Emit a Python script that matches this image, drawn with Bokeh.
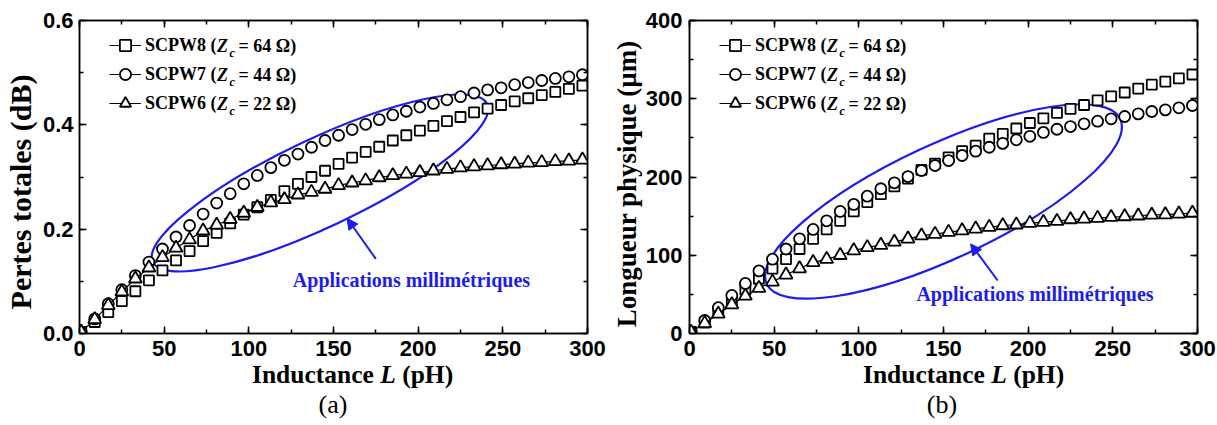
from bokeh.plotting import figure
from bokeh.layouts import row, column
from bokeh.models import (LinearAxis, SingleIntervalTicker, PrintfTickFormatter, CustomJSTickFormatter,
                          Range1d, Legend, LegendItem, Label, Arrow, NormalHead, Div)
from bokeh.embed import file_html
from bokeh.resources import INLINE

# ---------------- data ----------------
inductance_ph = [1, 9, 17, 25, 33, 41, 49, 57, 65, 73, 81, 89, 97, 105, 113, 121, 129, 137, 145,
                 153, 161, 169, 177, 185, 193, 201, 209, 217, 225, 233, 241, 249, 257, 265, 273,
                 281, 289, 297]

# (a) Pertes totales (dB)
pertes_scpw8 = [0.003, 0.022, 0.041, 0.062, 0.081, 0.102, 0.121, 0.140, 0.158, 0.177, 0.193, 0.211,
                0.228, 0.242, 0.256, 0.273, 0.287, 0.300, 0.312, 0.325, 0.337, 0.348, 0.358, 0.370,
                0.380, 0.389, 0.398, 0.407, 0.415, 0.424, 0.431, 0.438, 0.445, 0.451, 0.457, 0.463,
                0.469, 0.475]
pertes_scpw7 = [0.003, 0.028, 0.057, 0.084, 0.111, 0.137, 0.162, 0.185, 0.207, 0.229, 0.250, 0.268,
                0.287, 0.303, 0.318, 0.332, 0.344, 0.357, 0.370, 0.380, 0.391, 0.401, 0.410, 0.419,
                0.426, 0.434, 0.441, 0.448, 0.454, 0.461, 0.467, 0.471, 0.477, 0.481, 0.485, 0.489,
                0.492, 0.496]
pertes_scpw6 = [0.003, 0.027, 0.054, 0.080, 0.105, 0.126, 0.146, 0.164, 0.180, 0.197, 0.208, 0.219,
                0.231, 0.242, 0.251, 0.257, 0.266, 0.271, 0.277, 0.284, 0.289, 0.293, 0.299, 0.303,
                0.306, 0.309, 0.312, 0.315, 0.318, 0.320, 0.322, 0.324, 0.325, 0.327, 0.328, 0.330,
                0.331, 0.333]

# (b) Longueur physique (um)
longueur_scpw8 = [2, 14, 28, 42, 56, 70, 83, 95, 108, 121, 133, 144, 156, 168, 178, 188, 198, 209,
                  217, 225, 233, 240, 249, 255, 262, 269, 275, 282, 287, 292, 298, 303, 308, 313,
                  318, 322, 326, 331]
longueur_scpw7 = [2, 16.6, 33, 48.6, 64, 80, 95, 108, 121, 133, 144, 156, 165, 175.5, 185, 192.6,
                  200.6, 208.3, 214.7, 221, 227.5, 233, 238, 243, 247.5, 252, 257, 261, 264.5, 268,
                  271.3, 274.4, 277.3, 280.7, 283.7, 285.8, 288.4, 291.4]
longueur_scpw6 = [1.7, 13, 25, 37, 48, 58, 66, 75, 83, 91, 95, 100, 106, 110, 113, 117, 121, 125,
                  127, 129.5, 131.6, 133.8, 135.9, 138, 139, 141, 142.3, 143.5, 145.7, 146.6, 147.4,
                  148.6, 149.5, 150.5, 151.5, 152, 153, 154]

series_names = ["SCPW8", "SCPW7", "SCPW6"]
impedances = ["64", "44", "22"]
annotation_text = "Applications millimétriques"

# ---------------- style ----------------
SERIF = "Liberation Serif"
SANS = "Liberation Sans"
BLUE = "#1c1cf0"
MARKERS = ["square", "circle", "triangle"]
MSIZE = [10, 11, 13]
FIG_H = 365
NBSP = "\u00a0"


def style_axis(ax, standoff, labels=True):
    ax.axis_line_color = "black"
    ax.axis_line_width = 1.5
    ax.major_tick_in = 7
    ax.major_tick_out = 0
    ax.minor_tick_in = 4
    ax.minor_tick_out = 0
    ax.major_tick_line_width = 1.5
    ax.minor_tick_line_width = 1.5
    ax.major_tick_line_color = "black"
    ax.minor_tick_line_color = "black"
    ax.major_label_standoff = standoff
    if labels:
        ax.major_label_text_font = SANS
        ax.major_label_text_font_style = "bold"
        ax.major_label_text_font_size = "22px"
        ax.major_label_text_color = "black"
    else:
        ax.major_label_text_font_size = "1px"


def build(ys, y_max, y_step, y_fmt, y_label, y_label_size, border_left, width, border_right,
          y_std, y_lab_std, ell, arr, txt):
    # tiny headroom so the top tick (e.g. 0.6) survives floating-point rounding
    p = figure(width=width, height=FIG_H, x_range=Range1d(0, 300),
               y_range=Range1d(0, y_max * (1 + 1e-6)),
               output_backend="svg", toolbar_location=None, x_axis_type=None, y_axis_type=None,
               min_border_left=border_left, min_border_right=border_right,
               min_border_top=20, min_border_bottom=32)
    p.xgrid.visible = False
    p.ygrid.visible = False
    p.outline_line_color = "black"
    p.outline_line_width = 1.5
    p.background_fill_color = "white"
    p.border_fill_color = "white"

    xt = SingleIntervalTicker(interval=50, num_minor_ticks=2)
    yt = SingleIntervalTicker(interval=y_step, num_minor_ticks=2)

    bottom = LinearAxis(ticker=xt, formatter=PrintfTickFormatter(format="%d"))
    style_axis(bottom, 7)
    left = LinearAxis(ticker=yt, formatter=PrintfTickFormatter(format=y_fmt), axis_label=y_label)
    style_axis(left, y_std)
    left.axis_label_text_font = SERIF
    left.axis_label_text_font_style = "bold"
    left.axis_label_text_font_size = y_label_size
    left.axis_label_text_color = "black"
    left.axis_label_standoff = y_lab_std
    top = LinearAxis(ticker=xt, formatter=CustomJSTickFormatter(code="return ''"))
    style_axis(top, 0, labels=False)
    right = LinearAxis(ticker=yt, formatter=CustomJSTickFormatter(code="return ''"))
    style_axis(right, 0, labels=False)
    p.add_layout(bottom, "below")
    p.add_layout(left, "left")
    p.add_layout(top, "above")
    p.add_layout(right, "right")

    # annotation ellipse, arrow and text
    cx, cy, ew, eh, ea = ell
    p.ellipse(x=[cx], y=[cy], width=[ew], height=[eh], angle=[ea],
              width_units="screen", height_units="screen",
              fill_color=None, line_color=BLUE, line_width=2.2)
    x0, y0, x1, y1 = arr
    p.add_layout(Arrow(end=NormalHead(size=11, fill_color=BLUE, line_color=BLUE),
                       x_start=x0, y_start=y0, x_end=x1, y_end=y1,
                       line_color=BLUE, line_width=2))
    tx, ty = txt
    p.add_layout(Label(x=tx, y=ty, text=annotation_text, text_font=SERIF,
                       text_font_style="bold", text_font_size="20px", text_color=BLUE,
                       text_baseline="alphabetic"))

    items = []
    for k, (yv, mk, ms, nm) in enumerate(zip(ys, MARKERS, MSIZE, series_names)):
        ln = p.line(inductance_ph, yv, line_color="black", line_width=1.2)
        if k < 2:
            ln.visible = False
        sc = p.scatter(inductance_ph, yv, marker=mk, size=ms, line_color="black",
                       line_width=1.8, fill_color="white")
        items.append(LegendItem(label=nm + " (", renderers=[ln, sc]))

    leg = Legend(items=items, location=(30, 216), glyph_width=32, glyph_height=28,
                 label_height=20, spacing=1, padding=0, margin=0, label_standoff=4,
                 border_line_color=None, background_fill_alpha=0,
                 label_text_font=SERIF, label_text_font_style="bold",
                 label_text_font_size="18px", label_text_color="black")
    p.add_layout(leg)

    # rich parts of legend text: italic Z, subscript c, rest
    for k, imp in enumerate(impedances):
        yrow = 313 - (25 + 29 * k)
        xz = 66 + 71.5
        p.add_layout(Label(x=xz, y=yrow, x_units="screen", y_units="screen", text="Z",
                           text_font=SERIF, text_font_style="bold italic", text_font_size="18px",
                           text_baseline="middle", text_color="black"))
        p.add_layout(Label(x=xz + 12.5, y=yrow - 7, x_units="screen", y_units="screen", text="c",
                           text_font=SERIF, text_font_style="bold italic", text_font_size="12px",
                           text_baseline="middle", text_color="black"))
        p.add_layout(Label(x=xz + 21.5, y=yrow, x_units="screen", y_units="screen",
                           text=" = " + imp + " \u03a9)",
                           text_font=SERIF, text_font_style="bold", text_font_size="18px",
                           text_baseline="middle", text_color="black"))
    return p


def caption(width, title_left, tag_center, tag):
    font = "font-family:'Liberation Serif','Times New Roman',serif;color:black;white-space:nowrap;"
    html = (
        f'<div style="position:relative;width:{width}px;height:{425 - FIG_H}px;">'
        f'<span style="position:absolute;left:{title_left}px;top:0px;{font}'
        f'font-weight:bold;font-size:25.5px;line-height:0.8;">Inductance <i>L</i> (pH)</span>'
        f'<span style="position:absolute;left:{tag_center - 40}px;width:80px;text-align:center;'
        f'top:{391.7 - FIG_H:.1f}px;{font}font-size:26px;line-height:1;">{tag}</span>'
        f'</div>'
    )
    return Div(text=html, width=width, height=425 - FIG_H, margin=0)


pa = build([pertes_scpw8, pertes_scpw7, pertes_scpw6], 0.6, 0.2, "%.1f",
           "Pertes totales (dB)" + NBSP * 4, "30px",
           78, 608, 21, 6, 3,
           (142, 0.2885, 370, 88, 0.4416),
           (175, 0.143, 158, 0.221),
           (126, 0.1016))
pb = build([longueur_scpw8, longueur_scpw7, longueur_scpw6], 400, 100, "%d",
           "Longueur physique (\u00b5m)" + NBSP * 2, "27px",
           80, 609, 20, 7, 1,
           (150, 168.7, 390, 114, 0.436),
           (182, 67.7, 166, 114.6),
           (134, 50.7))

ca = caption(608, 252, 333, "(a)")
cb = caption(609, 863 - 608, 942 - 608, "(b)")

layout = row(column(pa, ca), column(pb, cb))
open("out.html", "w").write(file_html(layout, INLINE))
